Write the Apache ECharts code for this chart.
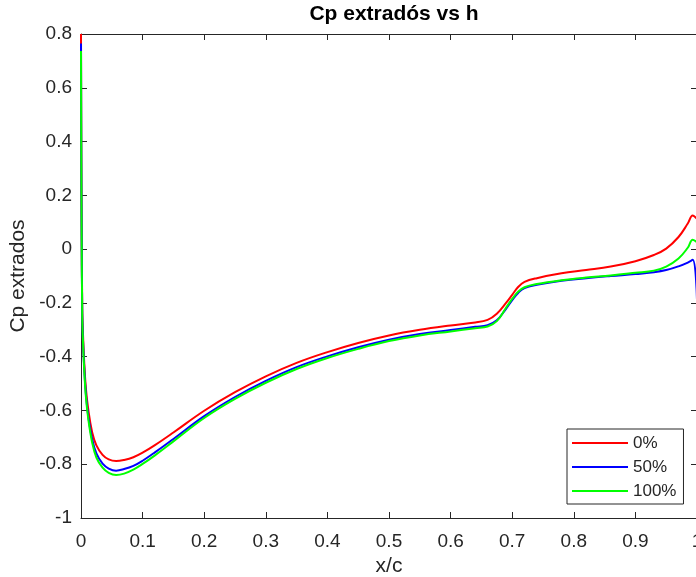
<!DOCTYPE html>
<html>
<head>
<meta charset="utf-8">
<script src="https://cdn.jsdelivr.net/npm/echarts@6/dist/echarts.min.js"></script>
<style>
  html, body { margin: 0; padding: 0; background: #ffffff; }
  #chart { width: 696px; height: 577px; }
</style>
</head>
<body>
<div id="chart"></div>
<script>
// Chordwise stations x/c
const xc = [0, 0.0005, 0.001, 0.002, 0.003, 0.005, 0.008, 0.012, 0.018, 0.025, 0.035, 0.045, 0.057, 0.07, 0.085,
  0.1, 0.12, 0.15, 0.2, 0.25, 0.3, 0.35, 0.4, 0.45, 0.5, 0.55, 0.6, 0.64, 0.66, 0.675, 0.69, 0.7, 0.71, 0.72,
  0.74, 0.78, 0.82, 0.86, 0.9, 0.93, 0.95, 0.97, 0.985, 0.993, 1.0];

// Upper-surface pressure coefficient for each h setting
const cp0 = [0.8, 0.35, 0.1, -0.22, -0.3, -0.41, -0.52, -0.6, -0.68, -0.73, -0.765, -0.782, -0.788, -0.784, -0.774,
  -0.757, -0.729, -0.682, -0.601, -0.532, -0.473, -0.423, -0.383, -0.349, -0.321, -0.3, -0.284, -0.273, -0.263, -0.24,
  -0.2, -0.17, -0.14, -0.122, -0.108, -0.09, -0.078, -0.065, -0.045, -0.022, 0.002, 0.045, 0.095, 0.125, 0.112];
const cp50 = [0.765, 0.33, 0.08, -0.24, -0.32, -0.43, -0.54, -0.625, -0.705, -0.76, -0.798, -0.816, -0.824, -0.818, -0.806,
  -0.787, -0.756, -0.706, -0.621, -0.55, -0.49, -0.439, -0.399, -0.365, -0.337, -0.316, -0.301, -0.289, -0.283, -0.265,
  -0.222, -0.19, -0.162, -0.145, -0.133, -0.118, -0.108, -0.1, -0.093, -0.086, -0.078, -0.064, -0.05, -0.04, -0.19];
const cp100 = [0.737, 0.32, 0.07, -0.25, -0.33, -0.44, -0.55, -0.635, -0.718, -0.775, -0.813, -0.832, -0.84, -0.835, -0.82,
  -0.799, -0.767, -0.715, -0.628, -0.557, -0.497, -0.446, -0.405, -0.371, -0.342, -0.321, -0.306, -0.294, -0.288, -0.268,
  -0.218, -0.185, -0.158, -0.142, -0.13, -0.116, -0.106, -0.098, -0.088, -0.08, -0.065, -0.035, 0.005, 0.035, 0.025];

const seriesNames = ['0%', '50%', '100%'];
const seriesColors = ['#ff0000', '#0000ff', '#00ff00'];
const xTicks = { min: 0, max: 1, interval: 0.1 };
const yTicks = { min: -1, max: 0.8, interval: 0.2 };

const ink = '#262626';
const font = 'Liberation Sans, Arial, Helvetica, sans-serif';

function pairs(ys) { return xc.map((x, i) => [x, ys[i]]); }

const fmt = v => String(Math.round(v * 10) / 10);

const baseAxis = {
  axisLine: { show: true, onZero: false, lineStyle: { color: ink, width: 1 } },
  axisTick: { show: true, inside: true, length: 6, lineStyle: { color: ink, width: 1 } },
  splitLine: { show: false }
};

const chart = echarts.init(document.getElementById('chart'), null, { renderer: 'canvas' });
chart.setOption({
  backgroundColor: '#ffffff',
  animation: false,
  title: {
    text: 'Cp extradós vs h',
    left: 389,
    top: -1,
    textAlign: 'center',
    textStyle: { fontFamily: font, fontSize: 21, fontWeight: 'bold', color: '#000000' }
  },
  grid: { left: 81, right: -1, top: 34, bottom: 59, containLabel: false, outerBoundsMode: 'none' },
  legend: {
    data: seriesNames,
    orient: 'vertical',
    left: 567,
    top: 429,
    padding: [2, 7, 1, 5],
    icon: 'rect',
    itemWidth: 56,
    itemHeight: 2,
    itemGap: 0,
    borderColor: ink,
    borderWidth: 1,
    backgroundColor: '#ffffff',
    textStyle: { fontFamily: font, fontSize: 17, color: ink, lineHeight: 24 }
  },
  xAxis: [
    Object.assign({}, baseAxis, {
      type: 'value', position: 'bottom', min: xTicks.min, max: xTicks.max, interval: xTicks.interval,
      name: 'x/c', nameLocation: 'middle', nameGap: 37,
      nameTextStyle: { fontFamily: font, fontSize: 21, color: ink },
      axisLabel: { show: true, margin: 14, fontFamily: font, fontSize: 19, color: ink, formatter: fmt }
    }),
    Object.assign({}, baseAxis, {
      type: 'value', position: 'top', min: xTicks.min, max: xTicks.max, interval: xTicks.interval,
      axisLabel: { show: false }
    })
  ],
  yAxis: [
    Object.assign({}, baseAxis, {
      type: 'value', position: 'left', min: yTicks.min, max: yTicks.max, interval: yTicks.interval,
      name: 'Cp extrados', nameLocation: 'middle', nameGap: 45, nameRotate: 90,
      nameTextStyle: { fontFamily: font, fontSize: 21, color: ink },
      axisLabel: { show: true, margin: 9, fontFamily: font, fontSize: 19, color: ink, formatter: fmt }
    }),
    Object.assign({}, baseAxis, {
      type: 'value', position: 'right', min: yTicks.min, max: yTicks.max, interval: yTicks.interval,
      axisLabel: { show: false }
    })
  ],
  series: [cp0, cp50, cp100].map((ys, i) => ({
    name: seriesNames[i],
    type: 'line',
    xAxisIndex: 0,
    yAxisIndex: 0,
    data: pairs(ys),
    symbol: 'none',
    smooth: 0.4,
    clip: true,
    lineStyle: { color: seriesColors[i], width: 2 },
    itemStyle: { color: seriesColors[i] }
  }))
});
</script>
</body>
</html>
